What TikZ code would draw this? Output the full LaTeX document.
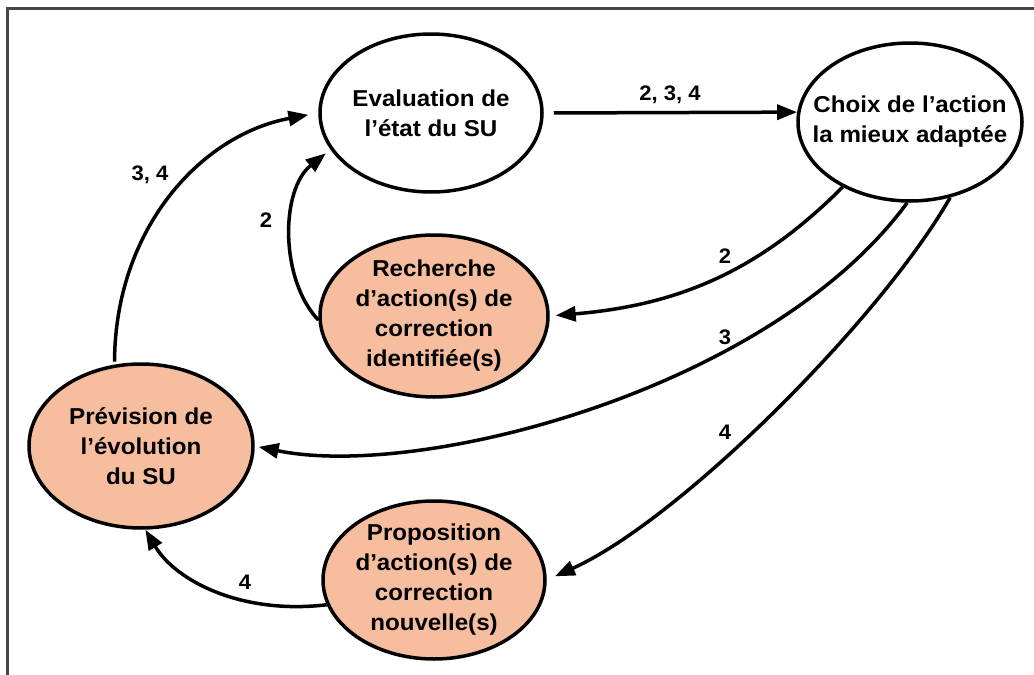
\documentclass[tikz,border=0pt]{standalone}
\usepackage{fontspec}
\setmainfont{Liberation Sans}[FakeStretch=1.05]
\usetikzlibrary{shapes.geometric,arrows.meta}
\definecolor{salmon}{RGB}{246,189,158}
\definecolor{framegray}{RGB}{70,70,70}
\begin{document}
\begin{tikzpicture}[x=1pt,y=-1pt,
  bub/.style={ellipse, draw=black, line width=3.5pt, inner sep=0pt},
  hot/.style={bub, fill=salmon},
  cold/.style={bub, fill=white},
  txt/.style={align=center, font=\fontsize{23}{30}\selectfont\bfseries, inner sep=0pt},
  lab/.style={font=\fontsize{21}{25}\selectfont\bfseries, inner sep=0pt},
  conn/.style={line width=3.5pt, -{Triangle[length=20pt,width=15pt]}},
]
\useasboundingbox (0,0) rectangle (1034,675);
\clip (0,0) rectangle (1034,675);
\fill[white] (0,0) rectangle (1034,675);
\draw[framegray, line width=2.5pt] (1040,8.5) -- (7.5,8.5) -- (7.5,680);

% nodes
\node[cold, minimum width=222pt, minimum height=158pt] (eval) at (431,113) {};
\node[cold, minimum width=224pt, minimum height=158pt] (choix) at (910,122) {};
\node[hot, minimum width=228pt, minimum height=162pt] (rech) at (434,316) {};
\node[hot, minimum width=224pt, minimum height=164pt] (prev) at (141,446) {};
\node[hot, minimum width=222pt, minimum height=158pt] (prop) at (434,580) {};

\node[txt] (evalT) at (eval.center) {Evaluation de\\l’état du SU};
\node[txt] (choixT) at (choix.center) {Choix de l’action\\la mieux adaptée};
\node[txt] (rechT) at (rech.center) {Recherche\\d’action(s) de\\correction\\identifiée(s)};
\node[txt] (prevT) at (prev.center) {Prévision de\\l’évolution\\du SU};
\node[txt] (propT) at (prop.center) {Proposition\\d’action(s) de\\correction\\nouvelle(s)};

% connectors
\draw[conn, shorten <=10pt] (eval.east) -- (choix.175);
\draw[conn, shorten >=6pt] (choix.224) .. controls (760,270) and (680,305) .. (rech.east);
\draw[conn, shorten >=4pt] (choix.268) .. controls (770,390) and (420,480) .. (prev.east);
\draw[conn, shorten >=9pt] (choix.298) .. controls (880,320) and (680,520) .. (prop.east);
\draw[conn] (prop.193) .. controls (240,615) and (175,580) .. (prev.273);
\draw[conn, shorten <=3pt, shorten >=10pt] (prev.108) .. controls (115,230) and (200,135) .. (eval.180);
\draw[conn, shorten >=6pt] (rech.182) .. controls (280,280) and (280,190) .. (eval.200);

% labels
\node[lab] (l234) at (670,95) {2, 3, 4};
\node[lab] (l2a) at (266,220) {2};
\node[lab] (l34) at (150,175) {3, 4};
\node[lab] (l2b) at (725,256) {2};
\node[lab] (l3) at (725,337) {3};
\node[lab] (l4a) at (725,432) {4};
\node[lab] (l4b) at (245,582) {4};
\end{tikzpicture}
\end{document}
